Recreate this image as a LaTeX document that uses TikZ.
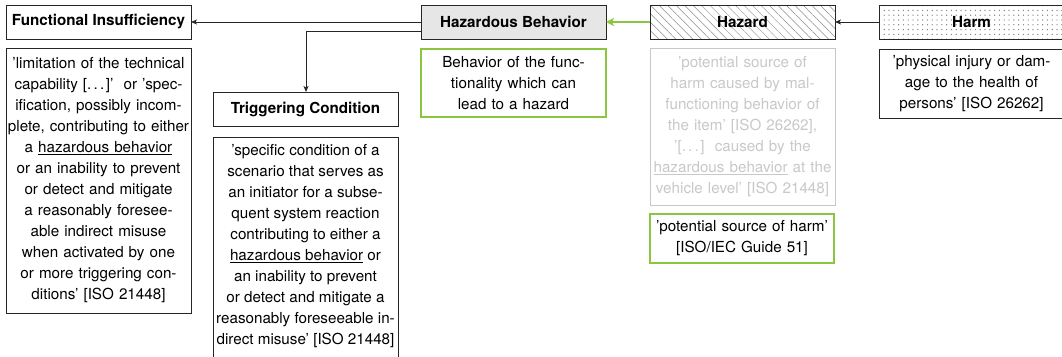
\documentclass[tikz,border=0pt]{standalone}
\usepackage{fontspec}
\setmainfont{TeX Gyre Heros}
\usetikzlibrary{arrows.meta,patterns,patterns.meta}
\definecolor{lime}{HTML}{8CC63F}
\definecolor{boxgray}{HTML}{E6E6E6}
\definecolor{faint}{HTML}{C8C8C8}
\newcommand{\bodyfont}{\fontsize{15.2}{21}\selectfont}
\newcommand{\spacedots}{.\kern2.2pt.\kern2.2pt.\kern1.6pt}
\begin{document}
\begin{tikzpicture}[x=1pt,y=-1pt,
  every node/.style={inner sep=0pt,outer sep=0pt,anchor=north west,font=\bodyfont},
  title/.style={draw=black!85,line width=0.9pt,minimum width=185pt,minimum height=34pt,font=\bodyfont\bfseries},
  desc/.style={draw=black!85,line width=0.9pt,minimum width=185pt,align=center,text width=185pt},
  greenbox/.style={desc,draw=lime,line width=1.8pt},
  link/.style={draw=black!85,line width=0.8pt,-{Stealth[length=6pt,width=5pt,inset=1.5pt]}},
  greenlink/.style={draw=lime,line width=1.8pt,-{Stealth[length=8pt,width=8pt,inset=2pt]}}
]
\useasboundingbox (0,0) rectangle (1062,356);

% headline boxes
\node[title] (fi) at (6,5) {Functional Insufficiency};
\node[title,fill=boxgray] (hb) at (421,5) {Hazardous Behavior};
\node[title] (tc) at (213,92) {Triggering Condition};
\node[title,pattern={Lines[angle=-45,distance=6pt,line width=0.45pt]},pattern color=black!45] (hz) at (650,5) {};
\node[font=\bodyfont\bfseries,anchor=center] (hzlabel) at (hz.center) {Hazard};
\node[title,pattern={Dots[distance=4.8pt,radius=0.7pt,xshift=1pt]},pattern color=black!50] (hm) at (879,5) {};
\node[font=\bodyfont\bfseries,anchor=center] (hmlabel) at (hm.center) {Harm};

% definition boxes
\node[desc,minimum height=265pt] (fid) at (6,48) {%
'limitation of the technical\\
capability [\spacedots]'\, or 'spec-\\
ification, possibly incom-\\
plete, contributing to either\\
a \underline{hazardous behavior}\\
or an inability to prevent\\
or detect and mitigate\\
a reasonably foresee-\\
able indirect misuse\\
when activated by one\\
or more triggering con-\\
ditions' {[}ISO 21448{]}};

% the triggering-condition box runs on below the lower edge
\node[desc,minimum height=223pt] (tcd) at (213,137) {};
\node[align=center,anchor=center] (tcdtext) at (305.5,246) {%
'specific condition of a\\
scenario that serves as\\
an initiator for a subse-\\
quent system reaction\\
contributing to either a\\
\underline{hazardous behavior} or\\
an inability to prevent\\
or detect and mitigate a\\
reasonably foreseeable in-\\
direct misuse' {[}ISO 21448{]}};

\node[greenbox,minimum height=68pt] (hbd) at (421,49) {%
Behavior of the func-\\
tionality which can\\
lead to a hazard};

\node[desc,draw=faint,text=faint,minimum height=157pt] (hzd) at (650,48) {%
'potential source of\\
harm caused by mal-\\
functioning behavior of\\
the item' {[}ISO 26262{]},\\
'{[}\spacedots{]}\, caused by the\\
\underline{hazardous behavior} at the\\
vehicle level' {[}ISO 21448{]}};

\node[greenbox,minimum width=184pt,text width=184pt,minimum height=49pt] (hzg) at (650,214) {%
'potential source of harm'\\
{[}ISO/IEC Guide 51{]}};

\node[desc,minimum height=69pt] (hmd) at (879,49) {%
'physical injury or dam-\\
age to the health of\\
persons' {[}ISO 26262{]}};

% connectors
\draw[link] (hm.west) -- (hz.east);
\draw[greenlink] (hz.west) -- (hb.east);
\draw[link] (hb.west) -- (fi.east);
\coordinate (bend) at (306,31);
\draw[link] (hb.west |- bend) -- (bend) -- (tc.north -| bend);
\end{tikzpicture}
\end{document}
